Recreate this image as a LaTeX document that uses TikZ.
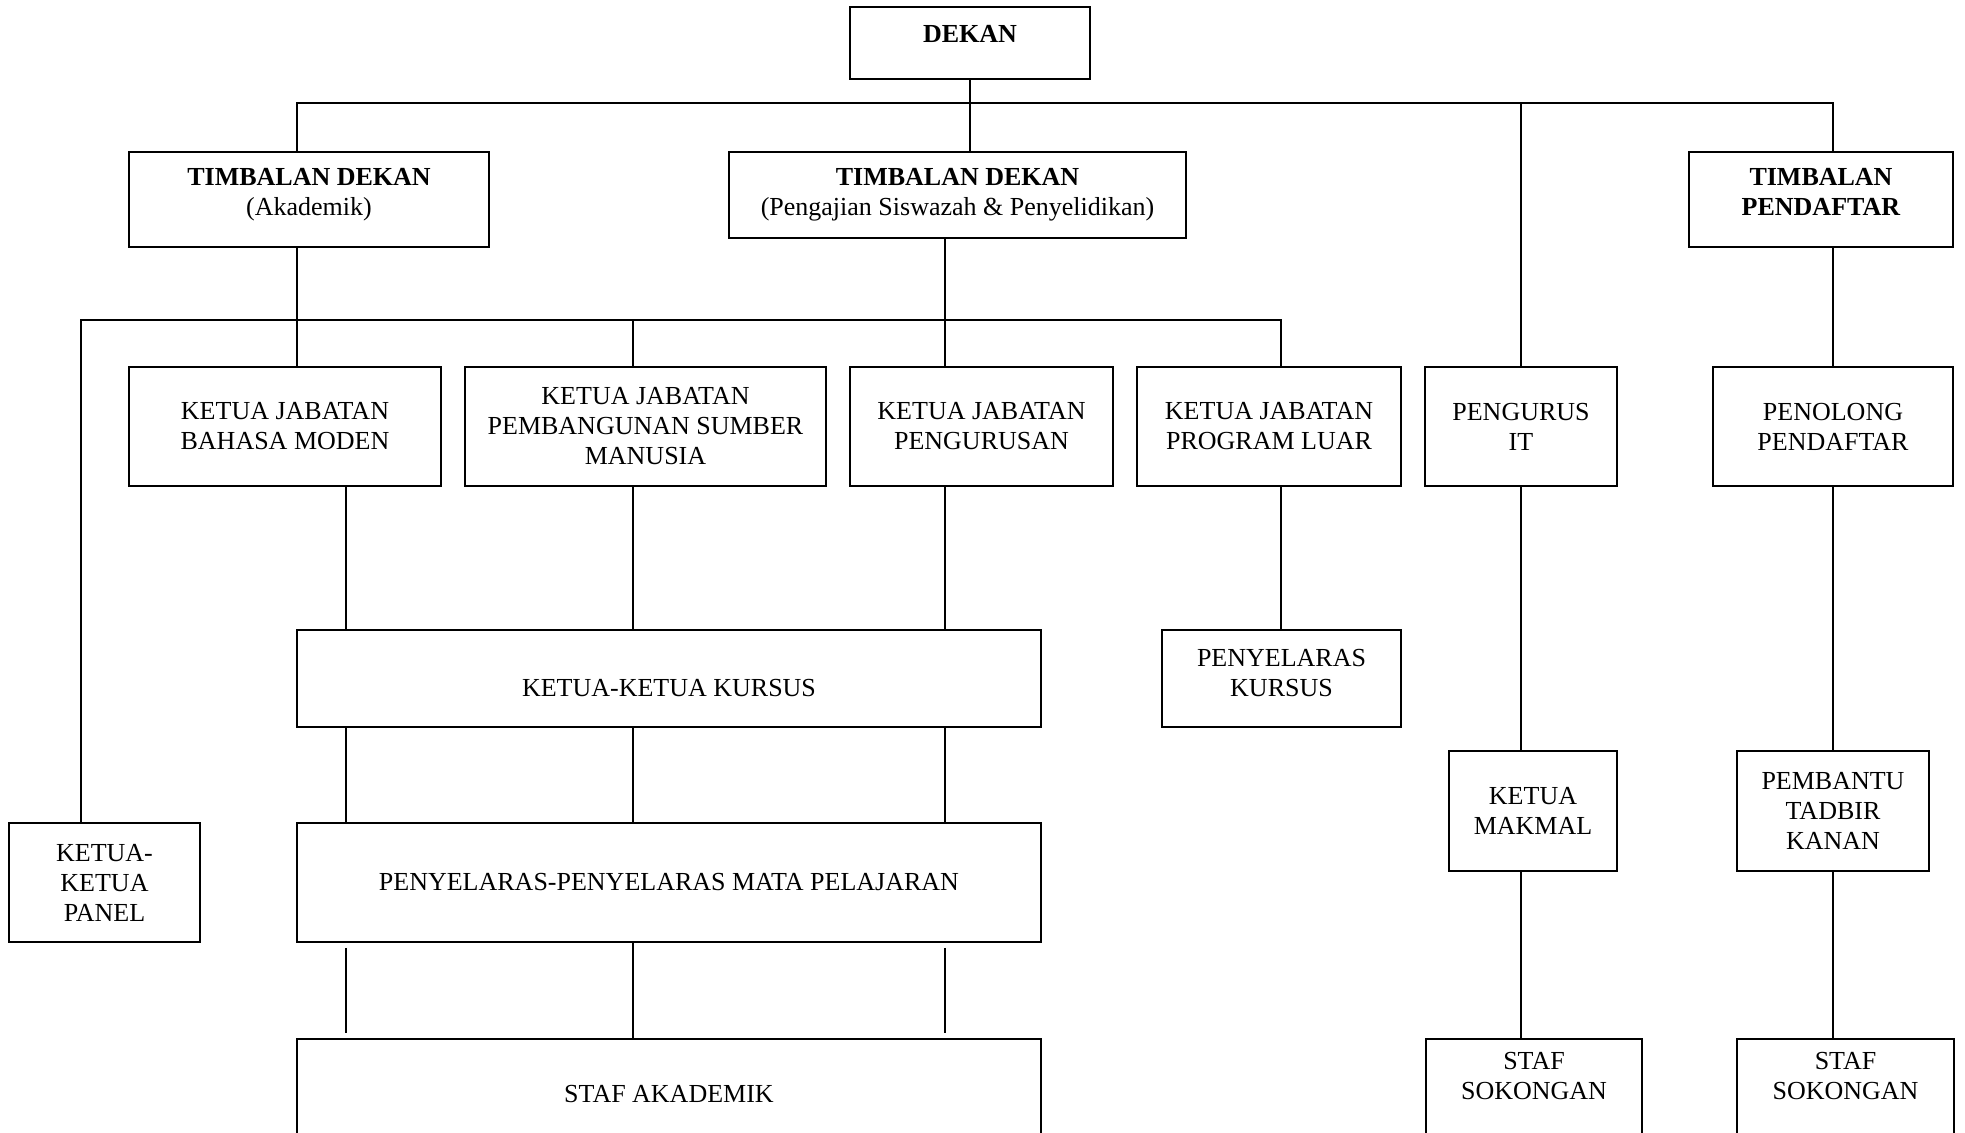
\documentclass[tikz,border=0pt]{standalone}
\usepackage{fontspec}
\setmainfont{Liberation Serif}

\begin{document}
\begin{tikzpicture}[x=0.5pt, y=-0.5pt,
    box/.style={draw, rectangle, line width=0.9pt, align=center, inner sep=0pt,
        font=\fontsize{13}{15}\selectfont},
    link/.style={line width=0.9pt}]
    \useasboundingbox (0,0) rectangle (1965,1133);

    % top level
    \node[box, minimum width=120pt, minimum height=36pt, text depth=9pt] (dekan) at (970,43) {\textbf{DEKAN}};
    \node[box, minimum width=180pt, minimum height=47.5pt, text depth=8pt] (tda) at (309,199.5) {\textbf{TIMBALAN DEKAN}\\(Akademik)};
    \node[box, minimum width=228.5pt, minimum height=43pt] (tdp) at (957.5,195) {\textbf{TIMBALAN DEKAN}\\(Pengajian Siswazah \& Penyelidikan)};
    \node[box, minimum width=132pt, minimum height=47.5pt, text depth=7.5pt] (tp) at (1821,199.5) {\textbf{TIMBALAN}\\\textbf{PENDAFTAR}};

    % ketua jabatan
    \node[box, minimum width=156pt, minimum height=59.5pt] (kjbm) at (285,426.5) {KETUA JABATAN\\BAHASA MODEN};
    \node[box, minimum width=180.5pt, minimum height=59.5pt] (kjpsm) at (645.5,426.5) {KETUA JABATAN\\PEMBANGUNAN SUMBER\\MANUSIA};
    \node[box, minimum width=131.5pt, minimum height=59.5pt] (kjp) at (981.5,426.5) {KETUA JABATAN\\PENGURUSAN};
    \node[box, minimum width=132pt, minimum height=59.5pt] (kjpl) at (1269,426.5) {KETUA JABATAN\\PROGRAM LUAR};
    \node[box, minimum width=96pt, minimum height=59.5pt] (it) at (1521,426.5) {PENGURUS\\IT};
    \node[box, minimum width=120pt, minimum height=59.5pt] (pp) at (1833,426.5) {PENOLONG\\PENDAFTAR};

    % lower levels
    \node[box, minimum width=372pt, minimum height=48.5pt, text height=18pt] (kursus) at (669,678.5) {KETUA-KETUA KURSUS};
    \node[box, minimum width=119.5pt, minimum height=48.5pt, text depth=6pt] (pk) at (1281.5,678.5) {PENYELARAS\\KURSUS};
    \node[box, minimum width=84pt, minimum height=60pt] (makmal) at (1533,811) {KETUA\\MAKMAL};
    \node[box, minimum width=96pt, minimum height=60pt] (ptk) at (1833,811) {PEMBANTU\\TADBIR\\KANAN};
    \node[box, minimum width=372pt, minimum height=59.5pt] (pmp) at (669,882.5) {PENYELARAS-PENYELARAS MATA PELAJARAN};
    \node[box, minimum width=95.5pt, minimum height=59.5pt] (panel) at (104.5,882.5) {KETUA-\\KETUA\\PANEL};
    \node[box, minimum width=372pt, minimum height=55pt] (sa) at (669,1094) {STAF AKADEMIK};
    \node[box, minimum width=108pt, minimum height=55pt, text depth=18pt] (ss1) at (1534,1094) {STAF\\SOKONGAN};
    \node[box, minimum width=108.5pt, minimum height=55pt, text depth=18pt] (ss2) at (1845.5,1094) {STAF\\SOKONGAN};

    % junctions
    \coordinate (topL) at (297,103);
    \coordinate (topR) at (1833,103);
    \coordinate (midL) at (81,320);
    \coordinate (midR) at (1281,320);
    \coordinate (colA) at (346,0);
    \coordinate (colB) at (633,0);
    \coordinate (colC) at (945,0);

    \draw[link] (dekan) -- (dekan |- tdp.north);
    \draw[link] (tda.north -| topL) -- (topL) -- (topR) -- (tp.north -| topR);
    \draw[link] (it.north) -- (it.north |- topL);
    \draw[link] (tda.south -| topL) -- (kjbm.north -| topL);
    \draw[link] (tdp.south -| colC) -- (kjp.north -| colC);
    \draw[link] (panel.north -| midL) -- (midL) -- (midR) -- (kjpl.north -| midR);
    \draw[link] (kjpsm.north -| colB) -- (colB |- midL);
    \foreach \n/\c in {kjbm/colA, kjpsm/colB, kjp/colC}
        \draw[link] (\n.south -| \c) -- (kursus.north -| \c);
    \foreach \c in {colA, colB, colC}
        \draw[link] (kursus.south -| \c) -- (pmp.north -| \c);
    \draw[link, shorten <=2.5pt, shorten >=2.5pt] (pmp.south -| colA) -- (sa.north -| colA);
    \draw[link] (pmp.south -| colB) -- (sa.north -| colB);
    \draw[link, shorten <=2.5pt, shorten >=2.5pt] (pmp.south -| colC) -- (sa.north -| colC);
    \draw[link] (kjpl.south -| midR) -- (pk.north -| midR);
    \draw[link] (it.south) -- (it.south |- makmal.north);
    \draw[link] (it.south |- makmal.south) -- (it.south |- ss1.north);
    \draw[link] (tp.south -| topR) -- (pp.north -| topR);
    \draw[link] (pp) -- (ptk);
    \draw[link] (ptk) -- (ptk |- ss2.north);
\end{tikzpicture}
\end{document}
